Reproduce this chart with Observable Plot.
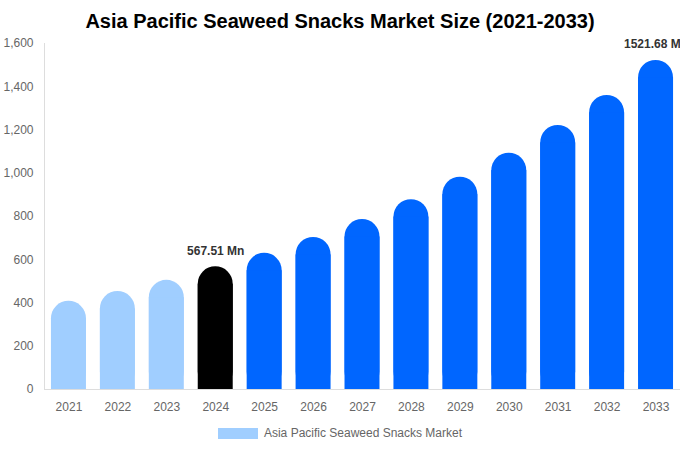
<!DOCTYPE html>
<html>
<head>
<meta charset="utf-8">
<script src="https://cdn.jsdelivr.net/npm/d3@7"></script>
<script src="https://cdn.jsdelivr.net/npm/@observablehq/plot@0.6"></script>
<style>
  body { margin: 0; background: #fff; font-family: "Liberation Sans", Arial, sans-serif; width: 680px; overflow: hidden; }
  #title { font-size: 20px; font-weight: bold; color: #000; text-align: center; line-height: 23px; padding-top: 10px; height: 23px; white-space: nowrap; }
  #legend { display: flex; justify-content: center; align-items: center; margin-top: 7px; font-size: 12px; color: #666; height: 16px; }
  #legend .sw { width: 40px; height: 11px; background: #a0ceff; margin-right: 6px; }
</style>
</head>
<body>
<div id="title">Asia Pacific Seaweed Snacks Market Size (2021-2033)</div>
<div id="chart"></div>
<div id="legend"><span class="sw"></span><span>Asia Pacific Seaweed Snacks Market</span></div>
<script>
const years = ["2021","2022","2023","2024","2025","2026","2027","2028","2029","2030","2031","2032","2033"];
const values = [408, 453, 505, 567.51, 630, 703, 786, 878, 982, 1093, 1221, 1360, 1521.68];
const barColors = ["#a0ceff","#a0ceff","#a0ceff","#000000","#0066ff","#0066ff","#0066ff","#0066ff","#0066ff","#0066ff","#0066ff","#0066ff","#0066ff"];
const labeled = ["2024", "2033"];
const yTicks = [0, 200, 400, 600, 800, 1000, 1200, 1400, 1600];

const data = years.map((y, i) => ({year: y, value: values[i], color: barColors[i]}));
const labelData = data.filter(d => labeled.includes(d.year));

const chart = Plot.plot({
  width: 680,
  height: 385,
  marginTop: 10,
  marginLeft: 44,
  marginRight: 0,
  marginBottom: 29,
  style: {fontFamily: "'Liberation Sans', Arial, sans-serif", fontSize: "12px", overflow: "hidden"},
  x: {domain: years, paddingInner: 0.285, paddingOuter: 0.1425, round: false, label: null},
  y: {domain: [0, 1600], label: null},
  marks: [
    Plot.barY(data, {x: "year", y: "value", fill: "color", rx: 17.5}),
    Plot.barY(data, {x: "year", y: "value", fill: "color", insetTop: 17.5}),
    Plot.ruleY([0], {stroke: "#dddddd"}),
    Plot.frame({anchor: "left", stroke: "#dddddd"}),
    Plot.axisX({tickSize: 0, tickPadding: 13, fill: "#666", label: null}),
    Plot.axisY({ticks: yTicks, tickSize: 0, tickPadding: 11, fill: "#666", tickFormat: d3.format(","), label: null}),
    Plot.text(labelData, {x: "year", y: "value", text: d => d.value.toFixed(2) + " Mn", dy: -16, fontWeight: "bold", fill: "#333", fontSize: 12})
  ]
});
document.getElementById("chart").appendChild(chart);
</script>
</body>
</html>
